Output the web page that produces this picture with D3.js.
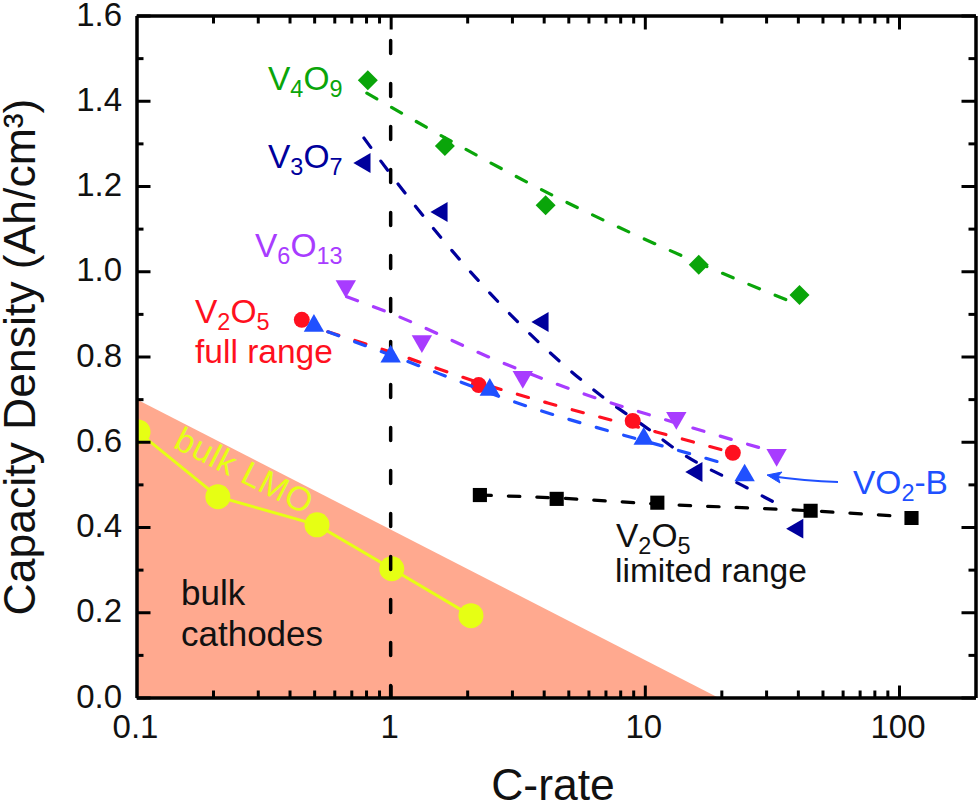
<!DOCTYPE html>
<html>
<head>
<meta charset="utf-8">
<script src="https://cdn.jsdelivr.net/npm/d3@7"></script>
<style>
  html, body { margin: 0; padding: 0; background: #fff; }
  svg { display: block; }
  text { font-family: "Liberation Sans", Arial, sans-serif; }
</style>
</head>
<body>
<svg width="980" height="805"></svg>
<script>
// x = C-rate, y = capacity density (Ah/cm3)
const v4o9X = [0.813, 1.634, 4.07, 16.3, 40.6]
const v4o9Y = [1.448, 1.294, 1.155, 1.015, 0.944]
const v4o9FitX = [0.806, 2.244, 4.15, 18.0, 37.1]
const v4o9FitY = [1.418, 1.268, 1.184, 1.008, 0.930]

const v3o7X = [0.791, 1.590, 3.97, 16.0, 39.9]
const v3o7Y = [1.254, 1.139, 0.881, 0.529, 0.396]
const v3o7FitX = [0.785, 0.993, 2.50, 6.83, 10.2, 13.7, 25.2, 35.5]
const v3o7FitY = [1.3125, 1.230, 0.944, 0.705, 0.632, 0.576, 0.492, 0.445]

const v6o13X = [0.666, 1.327, 3.31, 13.3, 33.0]
const v6o13Y = [0.965, 0.836, 0.752, 0.656, 0.569]
const v6o13FitX = [0.672, 0.993, 2.76, 6.24, 10.45, 28.3]
const v6o13FitY = [0.940, 0.902, 0.785, 0.705, 0.663, 0.586]

const v2o5X = [0.447, 2.22, 8.96, 22.2]
const v2o5Y = [0.886, 0.733, 0.649, 0.574]
const v2o5FitX = [0.566, 0.993, 2.244, 4.15, 11.1, 22.2]
const v2o5FitY = [0.858, 0.811, 0.738, 0.691, 0.623, 0.574]

const vo2X = [0.499, 1.0, 2.455, 9.90, 24.7]
const vo2Y = [0.872, 0.800, 0.722, 0.607, 0.521]
const vo2FitX = [0.566, 0.993, 3.62, 8.19, 13.3, 22.2]
const vo2FitY = [0.858, 0.804, 0.679, 0.616, 0.581, 0.543]

const limitedX = [2.244, 4.50, 11.2, 44.9, 112]
const limitedY = [0.475, 0.466, 0.457, 0.438, 0.421]
const limitedFitX = [2.244, 4.50, 11.2, 44.9, 96.1]
const limitedFitY = [0.475, 0.468, 0.454, 0.438, 0.426]

const lmoX = [0.1014, 0.209, 0.513, 1.01, 2.07]
const lmoY = [0.623, 0.471, 0.405, 0.302, 0.192]

const bulkRegionX = [0.1, 0.1, 19.4]
const bulkRegionY = [0, 0.7, 0]

const xMajor = [1, 10, 100]
const xMinor = [0.2, 0.3, 0.4, 0.5, 0.6, 0.7, 0.8, 0.9, 2, 3, 4, 5, 6, 7, 8, 9,
  20, 30, 40, 50, 60, 70, 80, 90]
const xLabels = [0.1, 1, 10, 100]
const yMajor = [0, 0.2, 0.4, 0.6, 0.8, 1.0, 1.2, 1.4, 1.6]
const yMinor = [0.1, 0.3, 0.5, 0.7, 0.9, 1.1, 1.3, 1.5]

const left = 136.5, right = 975.5, top_ = 15.5, bottom = 697.5

const svg = d3.select('svg')

const xScale = d3.scaleLog().domain([0.1, 200]).range([left, right])
const yScale = d3.scaleLinear().domain([0, 1.6]).range([bottom, top_])

const lineGen = d3.line()
  .x((d) => xScale(d[0]))
  .y((d) => yScale(d[1]))

const zip = (xs, ys) => xs.map((v, i) => [v, ys[i]])

svg.append('defs').append('clipPath').attr('id', 'plot')
  .append('rect')
  .attr('x', left).attr('y', top_)
  .attr('width', right - left).attr('height', bottom - top_)

const plot = svg.append('g').attr('clip-path', 'url(#plot)')

// bulk cathodes region
plot.append('path')
  .attr('d', lineGen(zip(bulkRegionX, bulkRegionY)) + 'Z')
  .attr('fill', '#FFA98F')

// bulk LMO
plot.append('path')
  .attr('d', lineGen(zip(lmoX, lmoY)))
  .attr('fill', 'none')
  .attr('stroke', '#E6FF14')
  .attr('stroke-width', 3)
plot.selectAll('.lmo')
  .data(zip(lmoX, lmoY))
  .enter()
  .append('circle')
  .attr('class', 'lmo')
  .attr('cx', (d) => xScale(d[0]))
  .attr('cy', (d) => yScale(d[1]))
  .attr('r', 12.5)
  .attr('fill', '#E6FF14')

// C-rate = 1 marker line
plot.append('line')
  .attr('x1', xScale(1)).attr('x2', xScale(1))
  .attr('y1', top_).attr('y2', bottom)
  .attr('stroke', '#000')
  .attr('stroke-width', 3.5)
  .attr('stroke-linecap', 'round')
  .attr('stroke-dasharray', '13 30')
  .attr('stroke-dashoffset', 18)

// series
const seriesList = [
  { xs: limitedX, ys: limitedY, fx: limitedFitX, fy: limitedFitY, color: '#000000', shape: d3.symbolSquare, size: 200, rot: 0 },
  { xs: v3o7X, ys: v3o7Y, fx: v3o7FitX, fy: v3o7FitY, color: '#00009C', shape: d3.symbolTriangle, size: 170, rot: -90 },
  { xs: v6o13X, ys: v6o13Y, fx: v6o13FitX, fy: v6o13FitY, color: '#A83CFF', shape: d3.symbolTriangle, size: 180, rot: 180 },
  { xs: v2o5X, ys: v2o5Y, fx: v2o5FitX, fy: v2o5FitY, color: '#FF1020', shape: d3.symbolCircle, size: 200, rot: 0 },
  { xs: vo2X, ys: vo2Y, fx: vo2FitX, fy: vo2FitY, color: '#2050FF', shape: d3.symbolTriangle, size: 180, rot: 0 },
  { xs: v4o9X, ys: v4o9Y, fx: v4o9FitX, fy: v4o9FitY, color: '#0AA50A', shape: d3.symbolSquare, size: 200, rot: 45 }
]

let drawSeries = (s) => {
  plot.append('path')
    .attr('d', lineGen.curve(d3.curveMonotoneX)(zip(s.fx, s.fy)))
    .attr('fill', 'none')
    .attr('stroke', s.color)
    .attr('stroke-width', 3.2)
    .attr('stroke-linecap', 'round')
    .attr('stroke-dasharray', '11.5 17')
  lineGen.curve(d3.curveLinear)

  plot.append('g').selectAll('path')
    .data(zip(s.xs, s.ys))
    .enter()
    .append('path')
    .attr('d', d3.symbol().type(s.shape).size(s.size))
    .attr('transform', (d) => `translate(${xScale(d[0])},${yScale(d[1])}) rotate(${s.rot})`)
    .attr('fill', s.color)
}
seriesList.forEach(drawSeries)

// axes, ticks point inward on all four sides
const axes = svg.append('g').attr('class', 'axes')

let addAxis = (axis, tx, ty) => {
  const g = axes.append('g')
    .attr('transform', `translate(${tx},${ty})`)
    .call(axis)
  g.selectAll('line').attr('stroke', '#000').attr('stroke-width', 3)
  g.selectAll('path').attr('stroke', '#000').attr('stroke-width', 3)
  return g
}

const noLabel = () => ''
addAxis(d3.axisBottom(xScale).tickValues(xMajor).tickSize(-12).tickSizeOuter(0).tickFormat(noLabel), 0, bottom)
addAxis(d3.axisBottom(xScale).tickValues(xMinor).tickSize(-7).tickSizeOuter(0).tickFormat(noLabel), 0, bottom)
addAxis(d3.axisTop(xScale).tickValues(xMajor).tickSize(-14).tickSizeOuter(0).tickFormat(noLabel), 0, top_)
addAxis(d3.axisTop(xScale).tickValues(xMinor).tickSize(-8).tickSizeOuter(0).tickFormat(noLabel), 0, top_)
addAxis(d3.axisLeft(yScale).tickValues(yMajor).tickSize(-14).tickSizeOuter(0).tickFormat(noLabel), left, 0)
addAxis(d3.axisLeft(yScale).tickValues(yMinor).tickSize(-7).tickSizeOuter(0).tickFormat(noLabel), left, 0)
addAxis(d3.axisRight(yScale).tickValues(yMajor).tickSize(-14).tickSizeOuter(0).tickFormat(noLabel), right, 0)
addAxis(d3.axisRight(yScale).tickValues(yMinor).tickSize(-7).tickSizeOuter(0).tickFormat(noLabel), right, 0)

// tick labels
svg.append('g').selectAll('text')
  .data(xLabels)
  .enter()
  .append('text')
  .attr('x', (d) => xScale(d) - 1)
  .attr('y', 738)
  .attr('text-anchor', 'middle')
  .attr('font-size', 33)
  .attr('fill', '#111')
  .text((d) => d)

svg.append('g').selectAll('text')
  .data(yMajor)
  .enter()
  .append('text')
  .attr('x', 122)
  .attr('y', (d) => yScale(d) + 10)
  .attr('text-anchor', 'end')
  .attr('font-size', 33)
  .attr('fill', '#111')
  .text((d) => d.toFixed(1))

// axis titles
svg.append('text')
  .attr('x', 553).attr('y', 800)
  .attr('text-anchor', 'middle')
  .attr('font-size', 44.5)
  .attr('fill', '#111')
  .text('C-rate')

svg.append('text')
  .attr('transform', 'translate(35,357) rotate(-90)')
  .attr('text-anchor', 'middle')
  .attr('font-size', 44.5)
  .attr('fill', '#111')
  .text('Capacity Density (Ah/cm³)')

// labels, parts = [text, isSubscript]
let addLabel = (x, y, parts, color, size) => {
  const t = svg.append('text')
    .attr('x', x).attr('y', y)
    .attr('font-size', size)
    .attr('fill', color)
  let lifted = false
  parts.forEach((p) => {
    const sub = p[1]
    const dy = sub && !lifted ? 7 : (!sub && lifted ? -7 : 0)
    lifted = sub
    t.append('tspan')
      .attr('dy', dy)
      .attr('font-size', sub ? size * 0.7 : size)
      .text(p[0])
  })
}

addLabel(268, 90, [['V'], ['4', 1], ['O'], ['9', 1]], '#0AA50A', 33.5)
addLabel(268, 168, [['V'], ['3', 1], ['O'], ['7', 1]], '#00009C', 33.5)
addLabel(255, 257, [['V'], ['6', 1], ['O'], ['13', 1]], '#A83CFF', 33.5)
addLabel(195, 323, [['V'], ['2', 1], ['O'], ['5', 1]], '#FF1020', 33.5)
addLabel(195, 363, [['full range']], '#FF1020', 33.5)
addLabel(853, 494, [['VO'], ['2', 1], ['-B']], '#2050FF', 33.5)
addLabel(616, 547, [['V'], ['2', 1], ['O'], ['5', 1]], '#111', 33.5)
addLabel(615, 582, [['limited range']], '#111', 33.5)
addLabel(181, 605, [['bulk']], '#111', 35)
addLabel(181, 646, [['cathodes']], '#111', 35)

svg.append('text')
  .attr('transform', 'translate(172,447) rotate(27)')
  .attr('font-size', 34)
  .attr('letter-spacing', 0.6)
  .attr('fill', '#E6FF14')
  .text('bulk LMO')

// VO2-B arrow
svg.append('path')
  .attr('d', 'M838,482 Q805,481 770,476')
  .attr('fill', 'none')
  .attr('stroke', '#2050FF')
  .attr('stroke-width', 2)
svg.append('path')
  .attr('d', 'M767,475 L782,472 L778,476.5 L780,483 Z')
  .attr('fill', '#2050FF')
  .attr('stroke', '#2050FF')
  .attr('stroke-width', 1)
</script>
</body>
</html>
